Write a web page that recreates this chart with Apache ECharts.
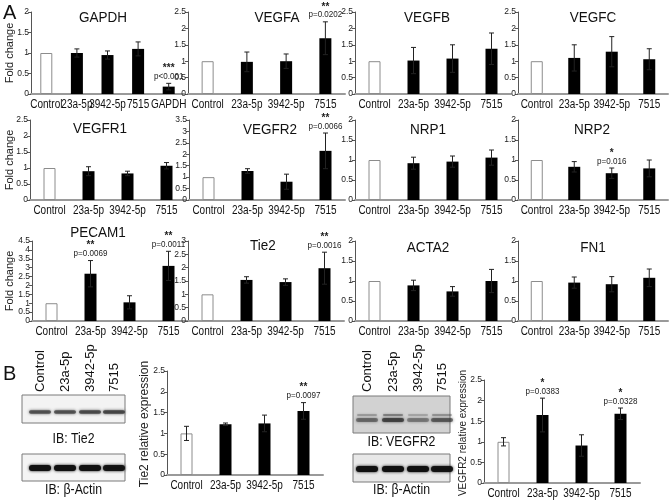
<!DOCTYPE html>
<html><head><meta charset="utf-8">
<script src="https://cdn.jsdelivr.net/npm/echarts@6/dist/echarts.min.js"></script>
<style>html,body{margin:0;padding:0;background:#fff}#c{width:669px;height:500px}</style>
</head><body><div id="c"></div>
<script>
// ---------------- DATA ----------------
const groups = ['Control', '23a-5p', '3942-5p', '7515'];
const gapdhGroups = ['Control', '23a-5p', '3942-5p', '7515', 'GAPDH'];

const gapdhMean = [1, 1.0, 0.95, 1.1, 0.18];
const gapdhErr = [0, 0.1, 0.1, 0.17, 0.08];
const gapdhStars = ['', '', '', '', '***'];
const gapdhP = ['', '', '', '', 'p<0.001'];

const vegfaMean = [1, 0.98, 1.0, 1.7];
const vegfaErr = [0, 0.3, 0.22, 0.5];
const vegfaStars = ['', '', '', '**'];
const vegfaP = ['', '', '', 'p=0.0202'];

const vegfbMean = [1, 1.02, 1.08, 1.38];
const vegfbErr = [0, 0.4, 0.42, 0.48];

const vegfcMean = [1, 1.1, 1.29, 1.06];
const vegfcErr = [0, 0.4, 0.46, 0.32];

const vegfr1Mean = [1, 0.9, 0.83, 1.07];
const vegfr1Err = [0, 0.14, 0.07, 0.1];

const vegfr2Mean = [1, 1.27, 0.8, 2.15];
const vegfr2Err = [0, 0.1, 0.33, 0.78];
const vegfr2Stars = ['', '', '', '**'];
const vegfr2P = ['', '', '', 'p=0.0066'];

const nrp1Mean = [1, 0.92, 0.96, 1.06];
const nrp1Err = [0, 0.15, 0.14, 0.19];

const nrp2Mean = [1, 0.83, 0.67, 0.79];
const nrp2Err = [0, 0.13, 0.13, 0.21];
const nrp2Stars = ['', '', '*', ''];
const nrp2P = ['', '', 'p=0.016', ''];

const pecam1Mean = [1, 2.66, 1.05, 3.1];
const pecam1Err = [0, 0.74, 0.37, 0.82];
const pecam1Stars = ['', '**', '', '**'];
const pecam1P = ['', 'p=0.0069', '', 'p=0.0011'];

const tie2Mean = [1, 1.54, 1.46, 1.98];
const tie2Err = [0, 0.12, 0.12, 0.6];
const tie2Stars = ['', '', '', '**'];
const tie2P = ['', '', '', 'p=0.0016'];

const acta2Mean = [1, 0.89, 0.74, 1.0];
const acta2Err = [0, 0.13, 0.12, 0.29];

const fn1Mean = [1, 0.96, 0.92, 1.08];
const fn1Err = [0, 0.14, 0.19, 0.22];

const tie2ProtMean = [1, 1.22, 1.24, 1.54];
const tie2ProtErr = [0.17, 0.03, 0.2, 0.2];
const tie2ProtStars = ['', '', '', '**'];
const tie2ProtP = ['', '', '', 'p=0.0097'];

const vegfr2ProtMean = [1, 1.65, 0.91, 1.68];
const vegfr2ProtErr = [0.1, 0.41, 0.26, 0.14];
const vegfr2ProtStars = ['', '*', '', '*'];
const vegfr2ProtP = ['', 'p=0.0383', '', 'p=0.0328'];

const blotLanes = ['Control', '23a-5p', '3942-5p', '7515'];
const tie2BandIntensity = [0.75, 0.75, 0.8, 0.85];
const vegfr2BandIntensity = [0.5, 0.8, 0.4, 0.6];
const actinBandIntensity = [1, 1, 1, 0.95];

// ---------------- LAYOUT ----------------
const FONT = "'Liberation Sans',Arial,sans-serif";
const NARROW = 0.8; // horizontal squeeze emulating a condensed face

const panels = [
  {title: 'GAPDH', cats: gapdhGroups, mean: gapdhMean, err: gapdhErr, stars: gapdhStars, p: gapdhP, max: 2, g: [31, 12, 153, 82], t: [103, 18]},
  {title: 'VEGFA', cats: groups, mean: vegfaMean, err: vegfaErr, stars: vegfaStars, p: vegfaP, max: 2.5, g: [188, 12, 157, 82], t: [277, 18]},
  {title: 'VEGFB', cats: groups, mean: vegfbMean, err: vegfbErr, max: 2.5, g: [355, 12, 156, 82], t: [427, 18]},
  {title: 'VEGFC', cats: groups, mean: vegfcMean, err: vegfcErr, max: 2.5, g: [518, 12, 150, 82], t: [593, 18]},
  {title: 'VEGFR1', cats: groups, mean: vegfr1Mean, err: vegfr1Err, max: 2.5, g: [30, 120, 156, 80], t: [100, 129]},
  {title: 'VEGFR2', cats: groups, mean: vegfr2Mean, err: vegfr2Err, stars: vegfr2Stars, p: vegfr2P, max: 3.5, g: [189, 120, 156, 80], t: [270, 130]},
  {title: 'NRP1', cats: groups, mean: nrp1Mean, err: nrp1Err, max: 2, g: [355, 120, 156, 80], t: [428, 130]},
  {title: 'NRP2', cats: groups, mean: nrp2Mean, err: nrp2Err, stars: nrp2Stars, p: nrp2P, max: 2, g: [518, 120, 150, 80], t: [592, 130]},
  {title: 'PECAM1', cats: groups, mean: pecam1Mean, err: pecam1Err, stars: pecam1Stars, p: pecam1P, max: 4.5, g: [32, 241, 156, 80], t: [98, 233]},
  {title: 'Tie2', cats: groups, mean: tie2Mean, err: tie2Err, stars: tie2Stars, p: tie2P, max: 3, g: [188, 241, 156, 80], t: [263, 246]},
  {title: 'ACTA2', cats: groups, mean: acta2Mean, err: acta2Err, max: 2, g: [355, 241, 156, 80], t: [428, 248]},
  {title: 'FN1', cats: groups, mean: fn1Mean, err: fn1Err, max: 2, g: [518, 241, 150, 80], t: [593, 248]},
  {title: '', cats: groups, mean: tie2ProtMean, err: tie2ProtErr, stars: tie2ProtStars, p: tie2ProtP, max: 2.5, g: [167, 371, 156, 104]},
  {title: '', cats: groups, mean: vegfr2ProtMean, err: vegfr2ProtErr, stars: vegfr2ProtStars, p: vegfr2ProtP, max: 2.5, g: [484, 380, 156, 103]}
];

const option = {
  animation: false,
  backgroundColor: '#fff',
  textStyle: {fontFamily: FONT},
  grid: [], xAxis: [], yAxis: [], series: [], graphic: []
};

panels.forEach((pn, k) => {
  option.grid.push({left: pn.g[0], top: pn.g[1], width: pn.g[2], height: pn.g[3], containLabel: false});
  option.xAxis.push({
    type: 'category', gridIndex: k, data: pn.cats,
    axisLine: {lineStyle: {color: '#9a9a9a', width: 2}},
    axisTick: {show: false},
    axisLabel: {show: false}
  });
  option.yAxis.push({
    type: 'value', gridIndex: k, min: 0, max: pn.max, interval: 0.5,
    splitLine: {show: false},
    axisLine: {show: true, lineStyle: {color: '#555', width: 1}},
    axisTick: {show: true, length: 3, lineStyle: {color: '#555'}},
    axisLabel: {fontFamily: FONT, fontSize: 8.5, color: '#222', margin: 2}
  });
  option.series.push({
    type: 'bar', xAxisIndex: k, yAxisIndex: k, barWidth: 12, z: 2,
    data: pn.mean.map((v, i) => ({
      value: v,
      itemStyle: i === 0 ? {color: '#fff', borderColor: '#8c8c8c', borderWidth: 1} : {color: '#000'}
    }))
  });
  // category labels (condensed look)
  option.series.push({
    type: 'custom', xAxisIndex: k, yAxisIndex: k, z: 5, silent: true,
    data: pn.cats.map((c, i) => [i, 0]),
    renderItem: function (params, api) {
      const c = api.coord([api.value(0), 0]);
      return {type: 'text', x: c[0], y: c[1] + 4, scaleX: NARROW,
        style: {text: pn.cats[params.dataIndex], fontFamily: FONT, fontSize: 12.5, fill: '#111', align: 'center', verticalAlign: 'top'}};
    }
  });
  option.series.push({
    type: 'custom', xAxisIndex: k, yAxisIndex: k, z: 3,
    data: pn.mean.map((v, i) => [i, v, pn.err[i]]),
    renderItem: function (params, api) {
      const i = api.value(0), v = api.value(1), e = api.value(2);
      if (!e) return null;
      const t = api.coord([i, v + e]);
      const b = api.coord([i, v - e]);
      const st = {stroke: '#222', lineWidth: 1};
      return {type: 'group', children: [
        {type: 'line', shape: {x1: t[0], y1: t[1], x2: b[0], y2: b[1]}, style: st},
        {type: 'line', shape: {x1: t[0] - 2.5, y1: t[1], x2: t[0] + 2.5, y2: t[1]}, style: st},
        {type: 'line', shape: {x1: b[0] - 2.5, y1: b[1], x2: b[0] + 2.5, y2: b[1]}, style: st}
      ]};
    }
  });
  if (pn.stars) {
    option.series.push({
      type: 'custom', xAxisIndex: k, yAxisIndex: k, z: 4,
      data: pn.mean.map((v, i) => [i, v + pn.err[i]]),
      renderItem: function (params, api) {
        const idx = params.dataIndex;
        const s = pn.stars[idx], pv = pn.p[idx];
        if (!s && !pv) return null;
        const c = api.coord([api.value(0), api.value(1)]);
        return {type: 'group', children: [
          {type: 'text', x: c[0], y: c[1] - 7, scaleX: 0.85, style: {text: pv, fontFamily: FONT, fontSize: 9.5, fill: '#222', align: 'center', verticalAlign: 'middle'}},
          {type: 'text', x: c[0], y: c[1] - 15, style: {text: s, fontFamily: FONT, fontSize: 10, fontWeight: 'bold', fill: '#222', align: 'center', verticalAlign: 'middle'}}
        ]};
      }
    });
  }
  if (pn.title) {
    option.graphic.push({type: 'text', x: pn.t[0], y: pn.t[1], scaleX: 0.9, style: {text: pn.title, fontFamily: FONT, fontSize: 15, fill: '#111', align: 'center', verticalAlign: 'middle'}});
  }
});

// Axis titles and panel letters
const G = option.graphic;
function vtext(x, y, txt, size) {
  G.push({type: 'text', x: x, y: y, rotation: Math.PI / 2, style: {text: txt, fontFamily: FONT, fontSize: size, fill: '#222', align: 'center', verticalAlign: 'middle'}});
}
vtext(10, 53, 'Fold change', 11);
vtext(10, 160, 'Fold change', 11);
vtext(10, 281, 'Fold change', 11);
vtext(145, 424, 'Tie2 relative expression', 12);
vtext(463, 433, 'VEGFR2 relative expression', 10);
G.push({type: 'text', x: 3, y: 13, style: {text: 'A', fontFamily: FONT, fontSize: 20, fill: '#111', verticalAlign: 'middle'}});
G.push({type: 'text', x: 3, y: 374, style: {text: 'B', fontFamily: FONT, fontSize: 20, fill: '#111', verticalAlign: 'middle'}});

// Western blots (schematic image panels)
function blot(box, lanesX, bandY, bandH, intensity, bg, bandColor, label, labelY, doublet) {
  G.push({type: 'rect', shape: {x: box[0], y: box[1], width: box[2], height: box[3]}, style: {fill: bg, stroke: '#7a7a7a', lineWidth: 1}});
  lanesX.forEach((lx, i) => {
    const a = intensity[i];
    G.push({type: 'rect', shape: {x: lx - 11, y: bandY - bandH / 2, width: 22, height: bandH, r: bandH / 2},
      style: {fill: bandColor, opacity: a, shadowBlur: 3, shadowColor: bandColor}});
    if (doublet) {
      G.push({type: 'rect', shape: {x: lx - 10, y: bandY - bandH / 2 - 4, width: 20, height: 2, r: 1},
        style: {fill: bandColor, opacity: a * 0.45, shadowBlur: 2, shadowColor: bandColor}});
    }
  });
  G.push({type: 'text', x: box[0] + box[2] / 2, y: labelY, scaleX: 0.88, style: {text: label, fontFamily: FONT, fontSize: 14, fill: '#111', align: 'center', verticalAlign: 'middle'}});
}
function laneLabels(lanesX, yBottom) {
  lanesX.forEach((lx, i) => {
    G.push({type: 'text', x: lx, y: yBottom, rotation: Math.PI / 2, style: {text: blotLanes[i], fontFamily: FONT, fontSize: 13, fill: '#111', align: 'left', verticalAlign: 'middle'}});
  });
}
const leftLanes = [40, 65, 90, 114];
const rightLanes = [367, 393, 418, 442];
laneLabels(leftLanes, 392);
laneLabels(rightLanes, 392);
blot([22, 395, 103, 28], leftLanes, 412, 3.5, tie2BandIntensity, '#f3f3f3', '#3a3a3a', 'IB: Tie2', 439, false);
blot([22, 454, 103, 27], leftLanes, 468, 6, actinBandIntensity, '#f4f4f4', '#111', 'IB: \u03b2-Actin', 490, false);
blot([353, 396, 97, 37], rightLanes, 420, 4, vegfr2BandIntensity, '#d2d2d2', '#333', 'IB: VEGFR2', 442, true);
blot([353, 454, 97, 28], rightLanes, 469, 6, actinBandIntensity, '#e8e8e8', '#111', 'IB: \u03b2-Actin', 490, false);

const chart = echarts.init(document.getElementById('c'), null, {renderer: 'canvas'});
chart.setOption(option);
</script>
</body></html>
